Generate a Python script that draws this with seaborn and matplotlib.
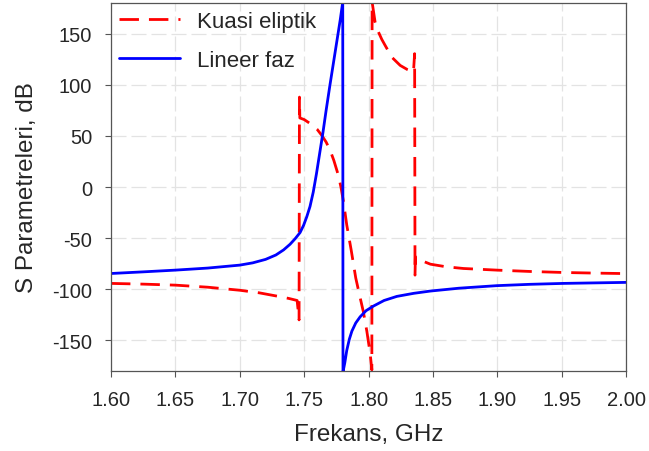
import matplotlib
matplotlib.use("Agg")
import matplotlib.pyplot as plt
import seaborn as sns
import pandas as pd

# Phase response of the two filter designs (frequency in GHz, phase in degrees)
freq_kuasi = [1.600, 1.625, 1.650, 1.675, 1.700, 1.715, 1.730, 1.738, 1.7445,
              1.7460, 1.7463, 1.7466, 1.750, 1.7559, 1.760, 1.7636, 1.767,
              1.7701, 1.773, 1.7765, 1.7785, 1.7805, 1.783, 1.7865, 1.790,
              1.793, 1.7959, 1.7986, 1.8012, 1.8025,
              1.8027, 1.805, 1.8076, 1.8102, 1.8128, 1.818, 1.8245, 1.830, 1.8348,
              1.8357, 1.8360, 1.8363, 1.840, 1.848, 1.860, 1.8736, 1.8995,
              1.925, 1.951, 1.975, 2.000]
phase_kuasi = [-94.3, -95.0, -96.0, -98.0, -101.0, -103.5, -107.0, -109.0, -111.0,
               -130.0, 88.0, 67.6, 66.0, 61.0, 56.5, 50.6, 44.0,
               36.0, 26.0, 11.5, 0.0, -14.5, -37.0, -62.0, -89.0,
               -106.0, -122.0, -141.0, -163.0, -179.0,
               181.0, 161.5, 151.7, 144.5, 138.6, 127.0, 119.0, 115.0, 112.6,
               130.5, -86.2, -68.3, -71.5, -75.5, -78.0, -79.7, -81.3,
               -82.6, -83.6, -84.2, -84.7]

freq_lineer = [1.600, 1.625, 1.650, 1.675, 1.700, 1.710, 1.720, 1.728, 1.734,
               1.739, 1.743, 1.7468, 1.7495, 1.752, 1.7545, 1.757, 1.7595,
               1.762, 1.7645, 1.767, 1.770, 1.773, 1.776, 1.778, 1.7799,
               1.7801, 1.7815, 1.783, 1.785, 1.787, 1.790, 1.7934, 1.798,
               1.8037, 1.812, 1.8219, 1.835, 1.8478, 1.870, 1.8995, 1.925,
               1.951, 1.975, 2.000]
phase_lineer = [-84.6, -83.0, -81.3, -79.3, -76.4, -74.2, -70.8, -66.5, -61.5,
                -56.0, -50.5, -44.5, -37.5, -29.0, -19.0, -5.0, 13.0,
                33.0, 53.0, 75.0, 100.0, 124.0, 148.0, 164.0, 181.0,
                -181.0, -172.0, -160.0, -149.0, -141.0, -133.0, -127.0, -121.0,
                -116.5, -111.0, -107.0, -104.0, -101.8, -99.0, -96.5, -95.2,
                -94.3, -93.8, -93.3]

x_ticks = [1.60, 1.65, 1.70, 1.75, 1.80, 1.85, 1.90, 1.95, 2.00]
y_ticks = [-150, -100, -50, 0, 50, 100, 150]

sns.set_style("white")
plt.rcParams["font.family"] = ["Liberation Sans", "DejaVu Sans"]
plt.rcParams["axes.unicode_minus"] = False

fig = plt.figure(figsize=(6.49, 4.52), dpi=100)
ax = fig.add_axes([0.171, 0.177, 0.794, 0.814])

df_k = pd.DataFrame({"f": freq_kuasi, "p": phase_kuasi})
df_l = pd.DataFrame({"f": freq_lineer, "p": phase_lineer})

dash = [7, 3.6]
sns.lineplot(data=df_k, x="f", y="p", sort=False, estimator=None, ax=ax,
             color="#ff0000", linewidth=2.0, label="Kuasi eliptik")
ax.lines[-1].set_dashes(dash)
sns.lineplot(data=df_l, x="f", y="p", sort=False, estimator=None, ax=ax,
             color="#0000ff", linewidth=2.0, label="Lineer faz")

ax.set_xlim(1.60, 2.00)
ax.set_ylim(-180, 180)
ax.set_xticks(x_ticks)
ax.set_xticklabels([f"{v:.2f}" for v in x_ticks])
ax.set_yticks(y_ticks)
ax.tick_params(axis="both", labelsize=14.5, direction="out", length=4.5,
               width=0.8, color="#555555", left=True, bottom=True)
ax.tick_params(axis="x", pad=9)
ax.tick_params(axis="y", pad=9)
ax.set_xlabel("Frekans, GHz", fontsize=17.5, labelpad=10)
ax.set_ylabel("S Parametreleri, dB", fontsize=17.5, labelpad=10)

ax.grid(True, color="#e3e3e3", linewidth=0.9, linestyle=(0, (12, 4)))
ax.set_axisbelow(True)
for s in ax.spines.values():
    s.set_color("#555555")
    s.set_linewidth(0.9)

leg = ax.legend(loc="upper left", frameon=False, fontsize=16,
                handlelength=2.75, handletextpad=0.75, labelspacing=0.82,
                borderaxespad=0.1, borderpad=0.25)
leg.get_lines()[0].set_dashes(dash)

fig.savefig("out.png", dpi=100)
